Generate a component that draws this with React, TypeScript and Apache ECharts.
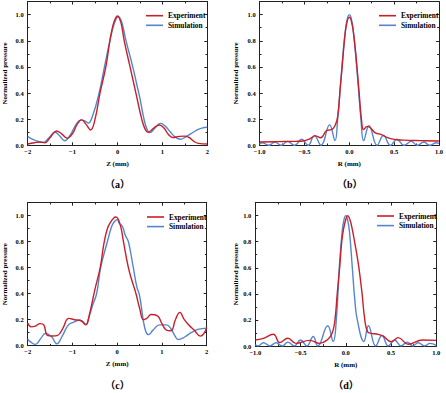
import React, { useEffect, useRef } from "react";
import * as echarts from "echarts";

type P = [number, number];

// Panel (a): axial, Z (mm)
const aExp: P[] = [
  [-2, 0.01], [-1.85, 0.02], [-1.72, 0.025], [-1.62, 0.02], [-1.5, 0.06], [-1.36, 0.11], [-1.25, 0.09],
  [-1.12, 0.055], [-1.0, 0.09], [-0.9, 0.16], [-0.8, 0.195], [-0.7, 0.16], [-0.6, 0.117], [-0.5, 0.2],
  [-0.39, 0.4], [-0.26, 0.6], [-0.17, 0.8], [-0.1, 0.92], [-0.04, 0.975], [0, 0.99], [0.04, 0.975],
  [0.09, 0.92], [0.15, 0.8], [0.28, 0.6], [0.41, 0.4], [0.54, 0.2], [0.62, 0.12], [0.68, 0.1],
  [0.8, 0.13], [0.93, 0.155], [1.03, 0.135], [1.13, 0.085], [1.23, 0.06], [1.38, 0.068], [1.5, 0.07],
  [1.6, 0.058], [1.7, 0.03], [1.8, 0.015], [2, 0.01],
];
const aSim: P[] = [
  [-2, 0.066], [-1.85, 0.04], [-1.66, 0.022], [-1.52, 0.06], [-1.39, 0.1], [-1.28, 0.07], [-1.18, 0.035],
  [-1.05, 0.08], [-0.92, 0.16], [-0.81, 0.195], [-0.72, 0.185], [-0.65, 0.17], [-0.55, 0.23], [-0.41, 0.4],
  [-0.29, 0.6], [-0.17, 0.8], [-0.1, 0.9], [-0.04, 0.96], [0.02, 0.985], [0.07, 0.965], [0.12, 0.91],
  [0.19, 0.8], [0.34, 0.6], [0.44, 0.45], [0.5, 0.36], [0.59, 0.2], [0.66, 0.12], [0.72, 0.097],
  [0.84, 0.135], [0.96, 0.168], [1.07, 0.145], [1.17, 0.105], [1.28, 0.065], [1.4, 0.046], [1.52, 0.065],
  [1.64, 0.09], [1.76, 0.115], [1.88, 0.132], [2, 0.138],
];

// Panel (b): lateral, R (mm)
const bExp: P[] = [
  [-1, 0.025], [-0.8, 0.028], [-0.6, 0.03], [-0.5, 0.035], [-0.44, 0.05], [-0.38, 0.072], [-0.32, 0.058],
  [-0.25, 0.115], [-0.2, 0.12], [-0.16, 0.15], [-0.13, 0.22], [-0.1, 0.45], [-0.08, 0.6], [-0.055, 0.8],
  [-0.03, 0.93], [0, 0.98], [0.03, 0.93], [0.06, 0.78], [0.085, 0.6], [0.11, 0.4], [0.135, 0.2],
  [0.16, 0.12], [0.2, 0.145], [0.24, 0.13], [0.29, 0.095], [0.36, 0.082], [0.42, 0.06], [0.5, 0.045],
  [0.6, 0.04], [0.8, 0.036], [1, 0.033],
];
const bSim: P[] = [
  [-1, 0.01], [-0.97, 0.02], [-0.9, 0.0], [-0.83, 0.025], [-0.76, 0.0], [-0.69, 0.03], [-0.61, 0.0],
  [-0.53, 0.046], [-0.46, 0.0], [-0.39, 0.074], [-0.316, 0.0], [-0.22, 0.156], [-0.16, 0.036],
  [-0.13, 0.2], [-0.1, 0.45], [-0.07, 0.7], [-0.04, 0.9], [-0.018, 0.98], [0, 1.0], [0.018, 0.98],
  [0.04, 0.9], [0.07, 0.7], [0.1, 0.45], [0.13, 0.2], [0.16, 0.036], [0.22, 0.15], [0.31, 0.0],
  [0.38, 0.075], [0.46, 0.0], [0.53, 0.046], [0.61, 0.0], [0.69, 0.03], [0.76, 0.0], [0.83, 0.025],
  [0.9, 0.0], [0.97, 0.02], [1, 0.015],
];

// Panel (c): axial, Z (mm)
const cExp: P[] = [
  [-2, 0.175], [-1.92, 0.145], [-1.83, 0.15], [-1.72, 0.17], [-1.64, 0.16], [-1.56, 0.08], [-1.45, 0.075],
  [-1.33, 0.08], [-1.22, 0.13], [-1.08, 0.21], [-0.95, 0.2], [-0.8, 0.19], [-0.7, 0.16], [-0.62, 0.24],
  [-0.5, 0.43], [-0.38, 0.6], [-0.3, 0.78], [-0.22, 0.9], [-0.14, 0.955], [-0.08, 0.98], [-0.04, 0.99],
  [0, 0.985], [0.04, 0.96], [0.09, 0.9], [0.14, 0.8], [0.25, 0.6], [0.33, 0.5], [0.42, 0.4],
  [0.5, 0.29], [0.59, 0.2], [0.66, 0.21], [0.76, 0.24], [0.9, 0.23], [1.0, 0.17], [1.1, 0.12],
  [1.2, 0.115], [1.3, 0.2], [1.4, 0.256], [1.5, 0.2], [1.6, 0.16], [1.72, 0.12], [1.86, 0.074],
  [1.93, 0.09], [2, 0.14],
];
const cSim: P[] = [
  [-2, 0.05], [-1.92, 0.025], [-1.83, 0.01], [-1.72, 0.05], [-1.6, 0.095], [-1.47, 0.07], [-1.35, 0.015],
  [-1.22, 0.08], [-1.09, 0.16], [-0.98, 0.18], [-0.82, 0.197], [-0.7, 0.164], [-0.65, 0.2], [-0.56, 0.3],
  [-0.46, 0.4], [-0.37, 0.6], [-0.22, 0.8], [-0.12, 0.92], [-0.06, 0.955], [0, 0.97], [0.05, 0.94],
  [0.12, 0.915], [0.18, 0.85], [0.25, 0.8], [0.36, 0.6], [0.44, 0.45], [0.49, 0.4], [0.54, 0.3],
  [0.58, 0.2], [0.64, 0.11], [0.7, 0.085], [0.8, 0.12], [0.95, 0.16], [1.1, 0.16], [1.2, 0.13],
  [1.3, 0.07], [1.36, 0.048], [1.5, 0.065], [1.65, 0.1], [1.8, 0.125], [2, 0.135],
];

// Panel (d): lateral, R (mm)
const dExp: P[] = [
  [-1, 0.046], [-0.92, 0.056], [-0.8, 0.09], [-0.73, 0.026], [-0.64, 0.059], [-0.55, 0.02], [-0.4, 0.043],
  [-0.29, 0.02], [-0.2, 0.05], [-0.15, 0.1], [-0.12, 0.2], [-0.095, 0.4], [-0.068, 0.6], [-0.045, 0.8],
  [-0.024, 0.9], [0, 0.97], [0.02, 1.0], [0.045, 0.97], [0.07, 0.9], [0.11, 0.75], [0.145, 0.6],
  [0.18, 0.4], [0.21, 0.2], [0.24, 0.11], [0.28, 0.097], [0.34, 0.092], [0.41, 0.077], [0.5, 0.033],
  [0.58, 0.064], [0.69, 0.013], [0.85, 0.046], [1, 0.043],
];
const dSim: P[] = [
  [-1, 0.01], [-0.97, 0.0], [-0.91, 0.025], [-0.84, 0.0], [-0.77, 0.025], [-0.7, 0.0], [-0.64, 0.03],
  [-0.57, 0.0], [-0.5, 0.046], [-0.43, 0.0], [-0.36, 0.073], [-0.31, 0.0], [-0.2, 0.155], [-0.14, 0.035],
  [-0.105, 0.2], [-0.072, 0.6], [-0.04, 0.88], [-0.018, 0.975], [0, 1.0], [0.018, 0.975], [0.04, 0.88],
  [0.072, 0.6], [0.1, 0.35], [0.127, 0.2], [0.2, 0.035], [0.25, 0.155], [0.33, 0.0], [0.4, 0.08],
  [0.47, 0.0], [0.54, 0.046], [0.61, 0.0], [0.68, 0.03], [0.74, 0.0], [0.8, 0.025], [0.87, 0.0],
  [0.93, 0.02], [1, 0.005],
];

const panelLabels = ["（a）", "（b）", "（c）", "（d）"];
const xNames = ["Z (mm)", "R (mm)", "Z (mm)", "R (mm)"];
const yName = "Normalized pressure";
const seriesNames = ["Experiment", "Simulation"];

const RED = "#c8202a";
const BLUE = "#5585d0";
const FONT = '"Liberation Serif", "Times New Roman", serif';

const grids = [
  { left: 27.7, top: 1.6, width: 179.6, height: 143.7 },
  { left: 259.7, top: 1.6, width: 180, height: 143.7 },
  { left: 27.7, top: 202.7, width: 179, height: 143 },
  { left: 255.3, top: 202.6, width: 181, height: 143.4 },
];
const xRanges = [
  { min: -2, max: 2, interval: 1, dec: 0 },
  { min: -1, max: 1, interval: 0.5, dec: 1 },
  { min: -2, max: 2, interval: 1, dec: 0 },
  { min: -1, max: 1, interval: 0.5, dec: 1 },
];
const yNameGaps = [19, 20, 19, 15.5];
const legendPos = [
  { left: 146, top: 11.7 },
  { left: 379, top: 11.7 },
  { left: 147, top: 213 },
  { left: 377, top: 212 },
];
const labelPos = [
  { x: 117.5, y: 184 },
  { x: 349.7, y: 184 },
  { x: 117.5, y: 385.7 },
  { x: 346, y: 385.7 },
];

const fmtNum = (v: number, dec: number) => {
  const s = Math.abs(v).toFixed(dec);
  return v < -1e-9 ? "\u2212" + s : s;
};

export default function App() {
  const ref = useRef<HTMLDivElement>(null);
  useEffect(() => {
    document.body.style.margin = "0";
    if (!ref.current) return;
    const chart = echarts.init(ref.current, null, { renderer: "svg" });
    const data = [
      [aExp, aSim],
      [bExp, bSim],
      [cExp, cSim],
      [dExp, dSim],
    ];
    const lineCol = "#222";
    const tickCommon = {
      axisLine: { show: true, onZero: false, lineStyle: { color: lineCol, width: 1 } },
      axisTick: { show: true, inside: true, length: 3, lineStyle: { color: lineCol, width: 1 } },
      minorTick: { show: true, splitNumber: 2, length: 1.8, lineStyle: { color: lineCol, width: 1 } },
      splitLine: { show: false },
      minorSplitLine: { show: false },
    };
    const xAxis: any[] = [];
    const yAxis: any[] = [];
    const series: any[] = [];
    grids.forEach((_, i) => {
      const xr = xRanges[i];
      xAxis.push({
        type: "value",
        gridIndex: i,
        position: "bottom",
        min: xr.min,
        max: xr.max,
        interval: xr.interval,
        ...tickCommon,
        axisLabel: {
          show: true,
          margin: 2.5,
          fontSize: 6.5,
          fontWeight: "bold",
          fontFamily: FONT,
          color: "#000",
          formatter: (v: number) => fmtNum(v, xr.dec),
        },
        name: xNames[i],
        nameLocation: "middle",
        nameGap: 15,
        nameTextStyle: { fontSize: 7, fontWeight: "bold", fontFamily: FONT, color: "#000" },
      });
      xAxis.push({
        type: "value",
        gridIndex: i,
        position: "top",
        min: xr.min,
        max: xr.max,
        interval: xr.interval,
        ...tickCommon,
        axisLabel: { show: false },
      });
      yAxis.push({
        type: "value",
        gridIndex: i,
        position: "left",
        min: 0,
        max: 1.1,
        interval: 0.2,
        ...tickCommon,
        axisLabel: {
          show: true,
          showMaxLabel: false,
          margin: 4,
          fontSize: 6.5,
          fontWeight: "bold",
          fontFamily: FONT,
          color: "#000",
          formatter: (v: number) => (Math.abs(v * 5 - Math.round(v * 5)) < 1e-6 ? v.toFixed(1) : ""),
        },
        name: yName,
        nameLocation: "middle",
        nameGap: yNameGaps[i],
        nameTextStyle: { fontSize: 7, fontWeight: "bold", fontFamily: FONT, color: "#000" },
      });
      yAxis.push({
        type: "value",
        gridIndex: i,
        position: "right",
        min: 0,
        max: 1.1,
        interval: 0.2,
        ...tickCommon,
        axisLabel: { show: false },
      });
      data[i].forEach((d, k) => {
        series.push({
          type: "line",
          name: seriesNames[k],
          xAxisIndex: 2 * i,
          yAxisIndex: 2 * i,
          data: d,
          smooth: 0.45,
          symbol: "none",
          showSymbol: false,
          z: k === 0 ? 3 : 2,
          lineStyle: { color: k === 0 ? RED : BLUE, width: 1.4 },
          itemStyle: { color: k === 0 ? RED : BLUE },
        });
      });
    });
    chart.setOption({
      animation: false,
      grid: grids.map((g) => ({ ...g, containLabel: false })),
      xAxis,
      yAxis,
      series,
      legend: legendPos.map((p) => ({
        left: p.left,
        top: p.top,
        orient: "vertical",
        icon: "rect",
        itemWidth: 17,
        itemHeight: 1.6,
        itemGap: 1.6,
        itemTextGap: 2,
        padding: 0,
        selectedMode: false,
        data: seriesNames,
        textStyle: { fontSize: 7.4, lineHeight: 8, fontWeight: "bold", fontFamily: FONT, color: "#000" },
      })),
      graphic: labelPos.map((p, i) => ({
        type: "text",
        x: p.x,
        y: p.y,
        style: {
          text: panelLabels[i],
          fill: "#000",
          fontSize: 10,
          fontWeight: "bold",
          fontFamily: '"Liberation Serif", "Noto Sans CJK SC", serif',
          align: "center",
          verticalAlign: "middle",
        },
      })),
    });
    return () => chart.dispose();
  }, []);
  return <div ref={ref} style={{ width: 446, height: 393 }} />;
}
